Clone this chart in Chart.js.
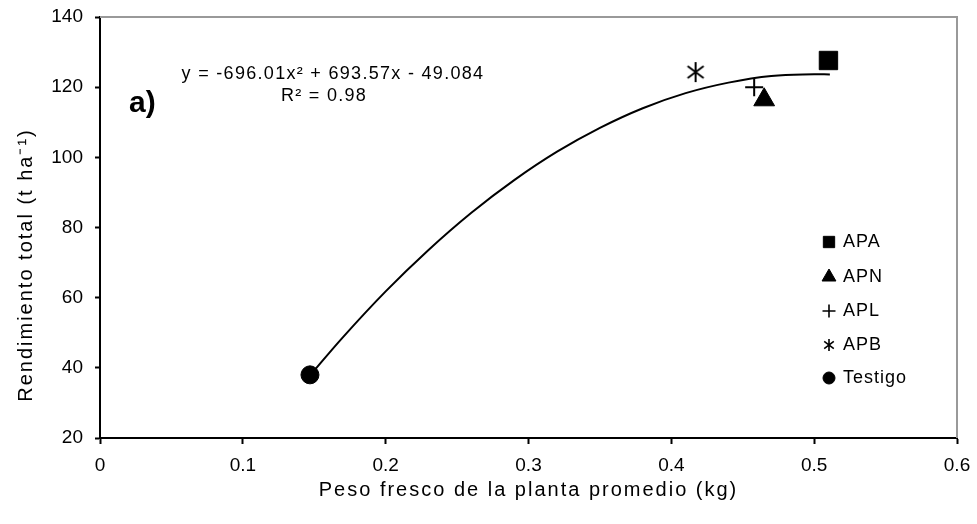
<!DOCTYPE html>
<html>
<head>
<meta charset="utf-8">
<script src="https://cdn.jsdelivr.net/npm/chart.js@4.4.1/dist/chart.umd.min.js"></script>
<style>
    html, body { margin: 0; padding: 0; background: #fff; }
    #wrap { width: 977px; height: 524px; }
</style>
</head>
<body>
<div id="wrap"><canvas id="scatterChart" width="977" height="524"></canvas></div>
<script>
// Treatment points (x = peso fresco kg, y = rendimiento t/ha)
const seriesNames = ['APA', 'APN', 'APL', 'APB', 'Testigo'];
const weightX = [0.51, 0.465, 0.458, 0.417, 0.147];
const yieldY = [127.6, 116.4, 120.0, 124.3, 38.0];

// Trend line
const trendX = [0.147, 0.17, 0.2, 0.23, 0.26, 0.29, 0.32, 0.35, 0.38, 0.41, 0.44, 0.47, 0.5, 0.511];
const trendY = [37.8, 48.7, 61.8, 73.6, 84.2, 93.5, 101.6, 108.4, 114.0, 118.3, 121.3, 123.2, 123.7, 123.6];

const xTicks = [0, 0.1, 0.2, 0.3, 0.4, 0.5, 0.6];
const yTicks = [20, 40, 60, 80, 100, 120, 140];

const xTitle = 'Peso fresco de la planta promedio (kg)';
const yTitle = 'Rendimiento total (t ha\u207B\u00B9)';

const FONT = "'Liberation Sans', Arial, sans-serif";

// Excel-style star marker: X plus vertical bar
function makeStar(size, lw) {
    const c = document.createElement('canvas');
    c.width = size; c.height = size;
    const g = c.getContext('2d');
    const h = size / 2, r = size / 2 - 1;
    g.strokeStyle = '#000';
    g.lineWidth = lw;
    g.beginPath();
    g.moveTo(h, h - r); g.lineTo(h, h + r);
    const d = r * 0.8;
    g.moveTo(h - d, h - d * 0.75); g.lineTo(h + d, h + d * 0.75);
    g.moveTo(h + d, h - d * 0.75); g.lineTo(h - d, h + d * 0.75);
    g.stroke();
    return c;
}

const bigStar = makeStar(22, 2);
const smallStar = makeStar(14, 1.6);

const markerStyles = [
    { pointStyle: 'rect', radius: 13, legendRadius: 8 },
    { pointStyle: 'triangle', radius: 12, legendRadius: 8 },
    { pointStyle: 'cross', radius: 9, legendRadius: 6.5 },
    { pointStyle: bigStar, radius: 11, legendStyle: smallStar, legendRadius: 7 },
    { pointStyle: 'circle', radius: 9, legendRadius: 6 }
];

const pointSets = seriesNames.map(function (name, i) {
    const m = markerStyles[i];
    return {
        label: name,
        data: [{ x: weightX[i], y: yieldY[i] }],
        pointStyle: m.pointStyle,
        pointRadius: m.radius,
        pointHoverRadius: m.radius,
        backgroundColor: '#000',
        borderColor: '#000',
        pointBorderWidth: m.pointStyle === 'cross' ? 2 : 1,
        order: 1
    };
});

const trendSet = {
    label: 'trend',
    data: trendX.map((x, i) => ({ x: x, y: trendY[i] })),
    showLine: true,
    pointRadius: 0,
    borderColor: '#000',
    borderWidth: 2,
    tension: 0.4,
    order: 2
};

// Gray frame on top and right, axis titles, equation text and inner legend
const decorPlugin = {
    id: 'decor',
    beforeDatasetsDraw(chart) {
        const ctx = chart.ctx, a = chart.chartArea;
        ctx.save();
        ctx.strokeStyle = '#999';
        ctx.lineWidth = 2;
        ctx.beginPath();
        ctx.moveTo(a.left, a.top);
        ctx.lineTo(a.right, a.top);
        ctx.lineTo(a.right, a.bottom);
        ctx.stroke();
        ctx.restore();
    },
    afterDraw(chart) {
        const ctx = chart.ctx, a = chart.chartArea;
        ctx.save();
        ctx.fillStyle = '#000';
        ctx.textBaseline = 'middle';
        ctx.textAlign = 'center';

        // axis titles
        ctx.font = '20px ' + FONT;
        ctx.letterSpacing = '2px';
        ctx.fillText(xTitle, (a.left + a.right) / 2, 490);
        ctx.save();
        ctx.translate(26, 265);
        ctx.rotate(-Math.PI / 2);
        ctx.fillText(yTitle, 0, 0);
        ctx.restore();

        // trend equation
        ctx.font = '18px ' + FONT;
        ctx.letterSpacing = '1.3px';
        ctx.fillText('y = -696.01x\u00B2 + 693.57x - 49.084', 333, 74);
        ctx.fillText('R\u00B2 = 0.98', 324, 96);
        ctx.letterSpacing = '0px';
        ctx.textAlign = 'left';
        ctx.font = 'bold 30px ' + FONT;
        ctx.fillText('a)', 129, 104);

        // legend
        const rows = [241, 276, 310, 344, 377];
        ctx.font = '18px ' + FONT;
        ctx.letterSpacing = '1px';
        seriesNames.forEach(function (name, i) {
            const m = markerStyles[i];
            ctx.fillStyle = '#000';
            ctx.strokeStyle = '#000';
            ctx.lineWidth = m.pointStyle === 'cross' ? 1.6 : 1;
            Chart.helpers.drawPoint(ctx, {
                pointStyle: m.legendStyle || m.pointStyle,
                radius: m.legendRadius,
                rotation: 0,
                borderWidth: ctx.lineWidth
            }, 829, rows[i] + 1);
            ctx.fillText(name, 843, rows[i] + 1);
        });
        ctx.restore();
    }
};

const ctx = document.getElementById('scatterChart').getContext('2d');
new Chart(ctx, {
    type: 'scatter',
    data: { datasets: [trendSet].concat(pointSets) },
    options: {
        responsive: false,
        animation: false,
        devicePixelRatio: 1,
        layout: { padding: { top: 17, right: 20, left: 0, bottom: 0 } },
        plugins: {
            legend: { display: false },
            tooltip: { enabled: false }
        },
        scales: {
            x: {
                type: 'linear',
                min: 0,
                max: 0.6,
                afterBuildTicks: function (scale) {
                    scale.ticks = xTicks.map(v => ({ value: v }));
                },
                afterFit: function (scale) {
                    scale.height = 86;
                    scale.paddingLeft = 0;
                    scale.paddingRight = 0;
                },
                grid: {
                    drawOnChartArea: false,
                    drawTicks: true,
                    tickLength: 6,
                    tickColor: '#000',
                    tickWidth: 2
                },
                border: { color: '#000', width: 2 },
                ticks: {
                    color: '#000',
                    font: { family: FONT, size: 19 },
                    padding: 10,
                    maxRotation: 0,
                    callback: v => String(v)
                }
            },
            y: {
                type: 'linear',
                min: 20,
                max: 140,
                afterBuildTicks: function (scale) {
                    scale.ticks = yTicks.map(v => ({ value: v }));
                },
                afterFit: function (scale) {
                    scale.width = 100;
                    scale.paddingTop = 0;
                    scale.paddingBottom = 0;
                },
                grid: {
                    drawOnChartArea: false,
                    drawTicks: true,
                    tickLength: 5,
                    tickColor: '#000',
                    tickWidth: 2
                },
                border: { color: '#000', width: 2 },
                ticks: {
                    color: '#000',
                    font: { family: FONT, size: 19 },
                    padding: 12
                }
            }
        }
    },
    plugins: [decorPlugin]
});
</script>
</body>
</html>
